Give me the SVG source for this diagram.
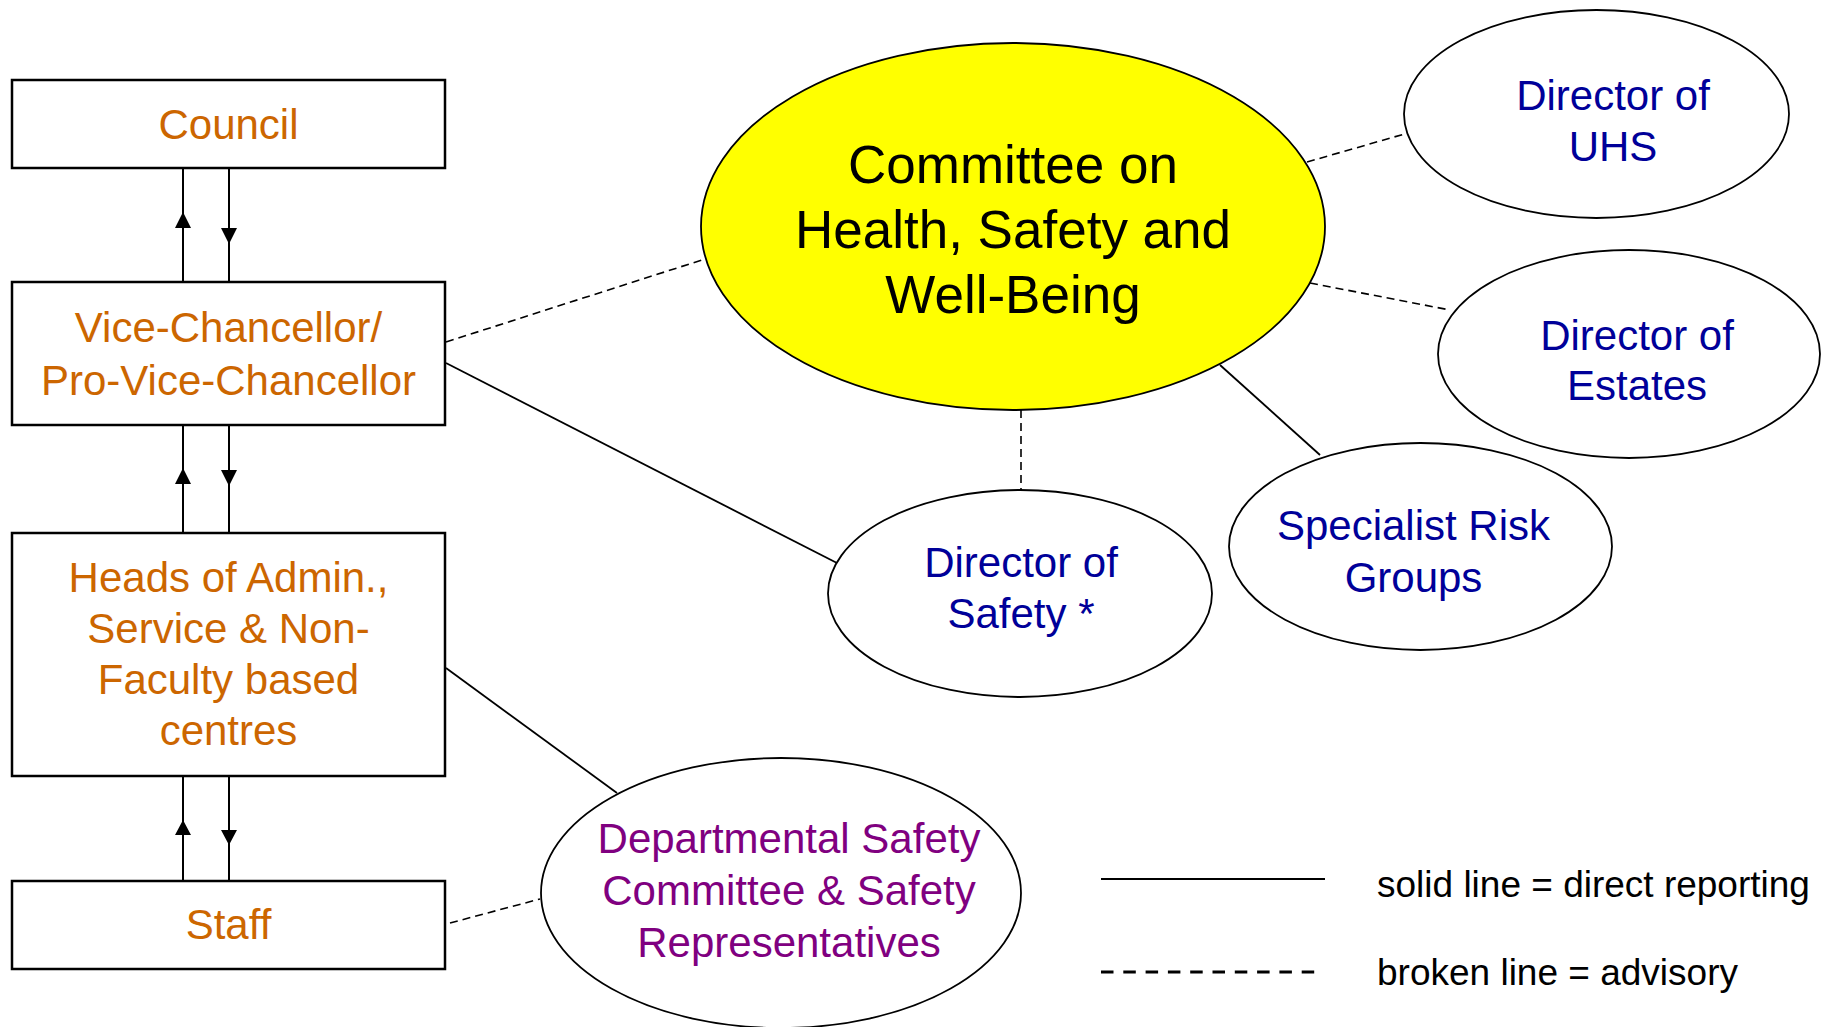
<svg xmlns="http://www.w3.org/2000/svg" width="1821" height="1027" viewBox="0 0 1821 1027">
<style>
.box{fill:#fff;stroke:#000;stroke-width:2.5}
.ell{fill:#fff;stroke:#000;stroke-width:1.8}
.t{font-family:"Liberation Sans",Arial,sans-serif;text-anchor:middle}
.org{fill:#CC6600;font-size:42px}
.blu{fill:#000099;font-size:42px}
.pur{fill:#800080;font-size:42px}
.solid{stroke:#000;stroke-width:1.8;fill:none}
.dash{stroke:#000;stroke-width:1.6;fill:none;stroke-dasharray:8 5}
.arr{stroke:#000;stroke-width:2;fill:none}
.head{fill:#000}
</style>
<rect width="1821" height="1027" fill="#fff"/>
<g id="connectors">
<line class="arr" x1="183" y1="168" x2="183" y2="282"/>
<line class="arr" x1="229" y1="168" x2="229" y2="282"/>
<polygon class="head" points="183,212 175,228 191,228"/>
<polygon class="head" points="229,244 221,228 237,228"/>
<line class="arr" x1="183" y1="425" x2="183" y2="533"/>
<line class="arr" x1="229" y1="425" x2="229" y2="533"/>
<polygon class="head" points="183,468 175,484 191,484"/>
<polygon class="head" points="229,486 221,470 237,470"/>
<line class="arr" x1="183" y1="776" x2="183" y2="881"/>
<line class="arr" x1="229" y1="776" x2="229" y2="881"/>
<polygon class="head" points="183,820 175,835 191,835"/>
<polygon class="head" points="229,845 221,830 237,830"/>
<line class="dash" x1="446" y1="342" x2="705" y2="259"/>
<line class="solid" x1="446" y1="363" x2="837" y2="563"/>
<line class="dash" x1="1307" y1="162" x2="1408" y2="133"/>
<line class="dash" x1="1310" y1="283" x2="1450" y2="310"/>
<line class="dash" x1="1021" y1="410" x2="1021" y2="490"/>
<line class="solid" x1="1220" y1="365" x2="1320" y2="455"/>
<line class="solid" x1="446" y1="668" x2="617" y2="793"/>
<line class="dash" x1="450" y1="923" x2="540" y2="899"/>
</g>
<g id="council">
<rect class="box" x="12" y="80" width="433" height="88"/>
<text class="t org" x="228.5" y="139">Council</text>
</g>
<g id="vice-chancellor">
<rect class="box" x="12" y="282" width="433" height="143"/>
<text class="t org" x="228.5" y="342">Vice-Chancellor/</text>
<text class="t org" x="228.5" y="395">Pro-Vice-Chancellor</text>
</g>
<g id="heads">
<rect class="box" x="12" y="533" width="433" height="243"/>
<text class="t org" x="228.5" y="592">Heads of Admin.,</text>
<text class="t org" x="228.5" y="643">Service &amp; Non-</text>
<text class="t org" x="228.5" y="694">Faculty based</text>
<text class="t org" x="228.5" y="745">centres</text>
</g>
<g id="staff">
<rect class="box" x="12" y="881" width="433" height="88"/>
<text class="t org" x="228.5" y="939">Staff</text>
</g>
<g id="committee">
<ellipse cx="1013" cy="226.5" rx="312" ry="183.5" fill="#FFFF00" stroke="#000" stroke-width="1.8"/>
<text class="t" x="1013" y="183" font-size="53" fill="#000">Committee on</text>
<text class="t" x="1013" y="248" font-size="53" fill="#000">Health, Safety and</text>
<text class="t" x="1013" y="313" font-size="53" fill="#000">Well-Being</text>
</g>
<g id="director-uhs">
<ellipse class="ell" cx="1596.5" cy="114" rx="192.5" ry="104"/>
<text class="t blu" x="1613" y="110">Director of</text>
<text class="t blu" x="1613" y="161">UHS</text>
</g>
<g id="director-estates">
<ellipse class="ell" cx="1629" cy="354" rx="191" ry="104"/>
<text class="t blu" x="1637" y="350">Director of</text>
<text class="t blu" x="1637" y="400">Estates</text>
</g>
<g id="director-safety">
<ellipse class="ell" cx="1020" cy="593.5" rx="192" ry="103.5"/>
<text class="t blu" x="1021" y="577">Director of</text>
<text class="t blu" x="1021" y="628">Safety *</text>
</g>
<g id="specialist">
<ellipse class="ell" cx="1420.5" cy="546.5" rx="191.5" ry="103.5"/>
<text class="t blu" x="1413.5" y="540">Specialist Risk</text>
<text class="t blu" x="1413.5" y="592">Groups</text>
</g>
<g id="departmental">
<ellipse class="ell" cx="781" cy="893" rx="240" ry="135"/>
<text class="t pur" x="789" y="853">Departmental Safety</text>
<text class="t pur" x="789" y="905">Committee &amp; Safety</text>
<text class="t pur" x="789" y="957">Representatives</text>
</g>
<g id="legend">
<line x1="1101" y1="879" x2="1325" y2="879" stroke="#000" stroke-width="2"/>
<line x1="1101" y1="972" x2="1316" y2="972" stroke="#000" stroke-width="3" stroke-dasharray="12.5 9.8"/>
<text x="1377" y="897" font-family="'Liberation Sans',Arial,sans-serif" font-size="37" fill="#000">solid line = direct reporting</text>
<text x="1377" y="985" font-family="'Liberation Sans',Arial,sans-serif" font-size="37" fill="#000">broken line = advisory</text>
</g>
</svg>
